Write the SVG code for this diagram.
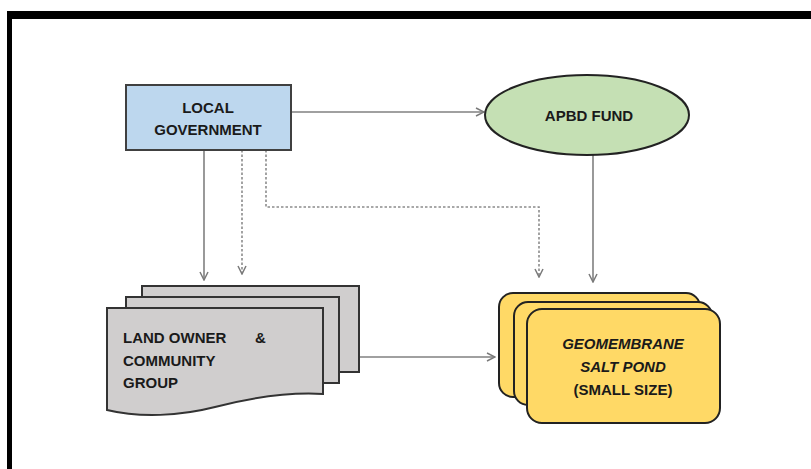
<svg xmlns="http://www.w3.org/2000/svg" width="811" height="469" viewBox="0 0 811 469">
<style>
.t{font-family:"Liberation Sans",Arial,sans-serif;font-weight:bold;font-size:15px;fill:#1a1a1a}
.c{text-anchor:middle}
.i{font-style:italic}
.ln{fill:none;stroke:#808080;stroke-width:1.6}
.dt{fill:none;stroke:#8c8c8c;stroke-width:1.6;stroke-dasharray:2.5 2}
.doc{fill:#d0cece;stroke:#333;stroke-width:2}
.pond{fill:#ffd966;stroke:#222;stroke-width:2}
</style>
<defs>
<marker id="ah" viewBox="0 0 10 10" refX="9" refY="5" markerWidth="10" markerHeight="10" markerUnits="userSpaceOnUse" orient="auto">
<path d="M1,1 L9,5 L1,9" fill="none" stroke="#7a7a7a" stroke-width="1.5"/>
</marker>
</defs>
<rect width="811" height="469" fill="#fff"/>
<rect x="7" y="11" width="804" height="8" fill="#000"/>
<rect x="7" y="11" width="5" height="458" fill="#000"/>

<g id="connectors">
<line class="ln" x1="291" y1="112" x2="484" y2="112" marker-end="url(#ah)"/>
<line class="ln" x1="593" y1="155" x2="593" y2="282" marker-end="url(#ah)"/>
<line class="ln" x1="204" y1="150" x2="204" y2="280" marker-end="url(#ah)"/>
<line class="dt" x1="242" y1="150" x2="242" y2="274" marker-end="url(#ah)"/>
<polyline class="dt" points="266,150 266,207 539,207 539,277" marker-end="url(#ah)"/>
<line class="ln" x1="359" y1="357" x2="495" y2="357" marker-end="url(#ah)"/>
</g>

<g id="local-government">
<rect x="126" y="85" width="165" height="65" fill="#bdd7ee" stroke="#404040" stroke-width="2"/>
<text class="t c" x="208" y="113">LOCAL</text>
<text class="t c" x="208" y="135">GOVERNMENT</text>
</g>

<g id="apbd-fund">
<ellipse cx="587" cy="115" rx="102" ry="40" fill="#c5e0b4" stroke="#222" stroke-width="2"/>
<text class="t c" x="589" y="121">APBD FUND</text>
</g>

<g id="land-owner">
<rect class="doc" x="142" y="286" width="217" height="86"/>
<rect class="doc" x="126" y="297" width="213" height="86"/>
<path class="doc" d="M107,308 L323,308 L323,394 C290,392 250,398 215,407 C180,416 140,418 107,410 Z"/>
<text class="t" x="123" y="343">LAND OWNER</text>
<text class="t" x="255" y="343">&amp;</text>
<text class="t" x="123" y="366">COMMUNITY</text>
<text class="t" x="123" y="388">GROUP</text>
</g>

<g id="salt-pond">
<rect class="pond" x="499" y="293" width="201" height="104" rx="14"/>
<rect class="pond" x="514" y="302" width="198" height="103" rx="14"/>
<rect class="pond" x="527" y="309" width="193" height="114" rx="15"/>
<text class="t c i" x="623" y="349">GEOMEMBRANE</text>
<text class="t c i" x="623" y="372">SALT POND</text>
<text class="t c" x="623" y="395">(SMALL SIZE)</text>
</g>
</svg>
